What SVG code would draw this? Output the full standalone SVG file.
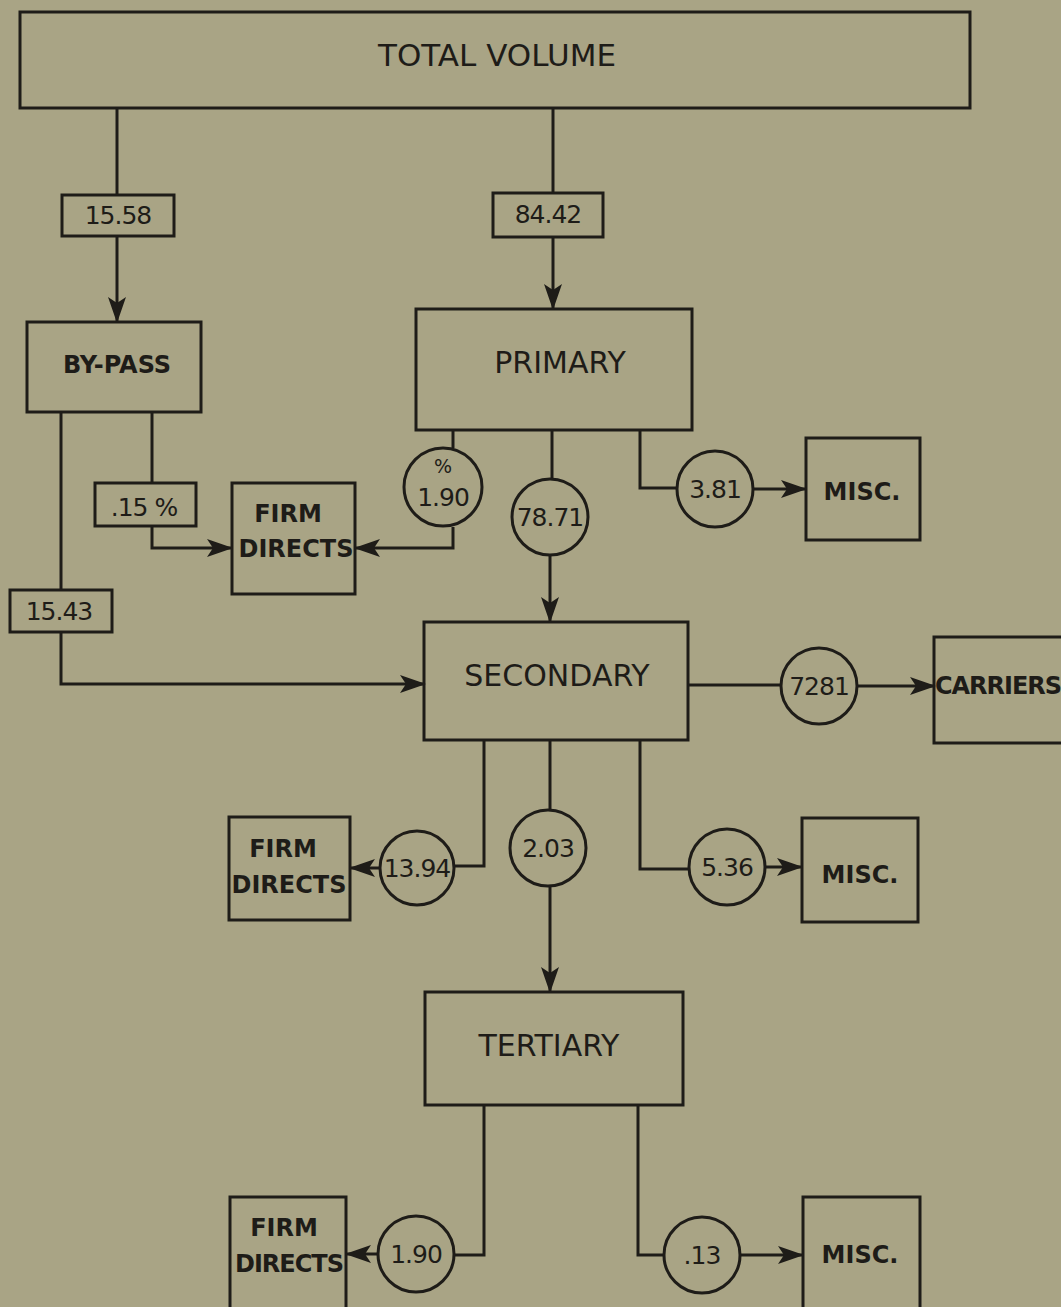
<svg xmlns="http://www.w3.org/2000/svg" width="1061" height="1307" viewBox="0 0 1061 1307">
<defs>
<marker id="ah" markerUnits="userSpaceOnUse" markerWidth="26" markerHeight="18" viewBox="0 0 26 18" refX="25" refY="9" orient="auto">
<path d="M0,0 L26,9 L0,18 L6,9 Z" fill="#1e1c18"/>
</marker>
<style>
.bx{fill:none;stroke:#1e1c18;stroke-width:3}
.ln{fill:none;stroke:#1e1c18;stroke-width:3}
.ar{fill:none;stroke:#1e1c18;stroke-width:3;marker-end:url(#ah)}
.t{font-family:"DejaVu Sans","Liberation Sans",sans-serif;fill:#1e1c18;text-anchor:middle}
.big{font-size:31px}
.lab{font-size:30px}
.sm{font-size:24px;font-weight:bold}
.num{font-size:25px;letter-spacing:-1px}
</style>
</defs>
<rect width="1061" height="1307" fill="#a9a485"/>
<g id="connectors">
<path class="ln" d="M117,108 V195"/>
<path class="ar" d="M117,236 V322"/>
<path class="ln" d="M553,108 V193"/>
<path class="ar" d="M553,237 V309"/>
<path class="ln" d="M61,412 V590"/>
<path class="ar" d="M61,632 V684 H425"/>
<path class="ln" d="M152,412 V483"/>
<path class="ar" d="M152,526 V548 H232"/>
<path class="ln" d="M453,430 V448"/>
<path class="ar" d="M453,527 V548 H355"/>
<path class="ln" d="M552,430 V479"/>
<path class="ar" d="M550,555 V622"/>
<path class="ln" d="M640,430 V488 H677"/>
<path class="ar" d="M753,489 H806"/>
<path class="ln" d="M688,685 H781"/>
<path class="ar" d="M857,686 H935"/>
<path class="ln" d="M484,740 V866 H454"/>
<path class="ar" d="M380,868 H350"/>
<path class="ln" d="M550,740 V810"/>
<path class="ar" d="M550,886 V992"/>
<path class="ln" d="M640,740 V869 H689"/>
<path class="ar" d="M765,867 H802"/>
<path class="ln" d="M484,1105 V1255 H454"/>
<path class="ar" d="M378,1254 H346"/>
<path class="ln" d="M638,1105 V1255 H664"/>
<path class="ar" d="M740,1255 H803"/>
</g>
<g id="total"><rect class="bx" x="20" y="12" width="950" height="96"/><text class="t big" x="497" y="66">TOTAL VOLUME</text></g>
<g id="v1558"><rect class="bx" x="62" y="195" width="112" height="41"/><text class="t num" x="118" y="224">15.58</text></g>
<g id="v8442"><rect class="bx" x="493" y="193" width="110" height="44"/><text class="t num" x="548" y="223">84.42</text></g>
<g id="bypass"><rect class="bx" x="27" y="322" width="174" height="90"/><text class="t sm" x="117" y="373">BY-PASS</text></g>
<g id="primary"><rect class="bx" x="416" y="309" width="276" height="121"/><text class="t lab" x="560" y="373">PRIMARY</text></g>
<g id="v015"><rect class="bx" x="95" y="483" width="101" height="43"/><text class="t num" x="144" y="516">.15 %</text></g>
<g id="firm1"><rect class="bx" x="232" y="483" width="123" height="111"/><text class="t sm" x="288" y="522">FIRM</text><text class="t sm" x="296" y="557">DIRECTS</text></g>
<g id="c190a"><circle class="bx" cx="443" cy="487" r="39"/><text class="t" style="font-size:19px" x="443" y="473">%</text><text class="t num" x="443" y="506">1.90</text></g>
<g id="c7871"><circle class="bx" cx="550" cy="517" r="38"/><text class="t num" x="550" y="526">78.71</text></g>
<g id="c381"><circle class="bx" cx="715" cy="489" r="38"/><text class="t num" x="715" y="498">3.81</text></g>
<g id="misc1"><rect class="bx" x="806" y="438" width="114" height="102"/><text class="t sm" x="862" y="500">MISC.</text></g>
<g id="v1543"><rect class="bx" x="10" y="590" width="102" height="42"/><text class="t num" x="59" y="620">15.43</text></g>
<g id="secondary"><rect class="bx" x="424" y="622" width="264" height="118"/><text class="t lab" x="557" y="686">SECONDARY</text></g>
<g id="c7281"><circle class="bx" cx="819" cy="686" r="38"/><text class="t num" x="819" y="695">7281</text></g>
<g id="carriers"><rect class="bx" x="934" y="637" width="140" height="106"/><text class="t sm" x="998" y="694" style="letter-spacing:-1px">CARRIERS</text></g>
<g id="firm2"><rect class="bx" x="229" y="817" width="121" height="103"/><text class="t sm" x="283" y="857">FIRM</text><text class="t sm" x="289" y="893">DIRECTS</text></g>
<g id="c1394"><circle class="bx" cx="417" cy="868" r="37"/><text class="t num" x="417" y="877">13.94</text></g>
<g id="c203"><circle class="bx" cx="548" cy="848" r="38"/><text class="t num" x="548" y="857">2.03</text></g>
<g id="c536"><circle class="bx" cx="727" cy="867" r="38"/><text class="t num" x="727" y="876">5.36</text></g>
<g id="misc2"><rect class="bx" x="802" y="818" width="116" height="104"/><text class="t sm" x="860" y="883">MISC.</text></g>
<g id="tertiary"><rect class="bx" x="425" y="992" width="258" height="113"/><text class="t lab" x="549" y="1056">TERTIARY</text></g>
<g id="firm3"><rect class="bx" x="230" y="1197" width="116" height="112"/><text class="t sm" x="284" y="1236">FIRM</text><text class="t sm" x="289" y="1272" style="letter-spacing:-1px">DIRECTS</text></g>
<g id="c190b"><circle class="bx" cx="416" cy="1254" r="38"/><text class="t num" x="416" y="1263">1.90</text></g>
<g id="c013"><circle class="bx" cx="702" cy="1255" r="38"/><text class="t num" x="702" y="1264">.13</text></g>
<g id="misc3"><rect class="bx" x="803" y="1197" width="117" height="112"/><text class="t sm" x="860" y="1263">MISC.</text></g>
</svg>
